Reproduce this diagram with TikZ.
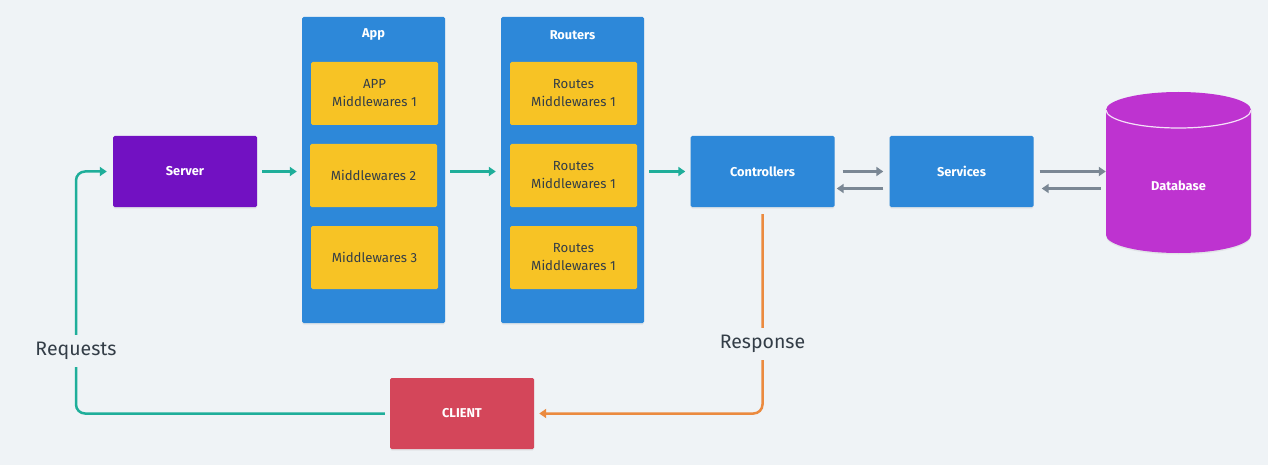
\documentclass[tikz,border=0pt]{standalone}
\usepackage{fontspec}
\setmainfont{Fira Sans}
\usetikzlibrary{arrows.meta, shadows}

\definecolor{bg}{HTML}{EFF3F6}
\definecolor{boxblue}{HTML}{2D88D9}
\definecolor{mwyellow}{HTML}{F7C325}
\definecolor{srvpurple}{HTML}{7211C2}
\definecolor{dbmagenta}{HTML}{BE33D0}
\definecolor{clientred}{HTML}{D4465A}
\definecolor{flowteal}{HTML}{1FAE9A}
\definecolor{flowgray}{HTML}{7A8794}
\definecolor{resporange}{HTML}{EB8A3F}
\definecolor{textdark}{HTML}{333D47}

\begin{document}
\begin{tikzpicture}[x=1pt,y=-1pt,
  shade/.style={drop shadow={opacity=0.12, shadow xshift=0pt, shadow yshift=-1.5pt}},
  box/.style={shade, rounded corners=1.5pt, minimum width=144pt, minimum height=71pt, text=white, font=\fontsize{12.8}{15}\selectfont\bfseries},
  column/.style={shade, fill=boxblue, rounded corners=1.5pt, minimum width=143pt, minimum height=306pt},
  coltitle/.style={text=white, font=\fontsize{12.8}{15}\selectfont\bfseries},
  mw/.style={fill=mwyellow, rounded corners=1.5pt, minimum width=127pt, minimum height=63pt, align=center, text=textdark, font=\fontsize{13.2}{18}\selectfont},
  flow/.style={flowteal, line width=2.5pt, -{Triangle[length=7pt,width=9pt]}, shorten <=5pt, shorten >=5pt},
  back/.style={flowgray, line width=3pt, -{Triangle[length=7pt,width=9pt]}},
  resp/.style={resporange, line width=2.5pt, rounded corners=9pt, -{Triangle[length=7pt,width=9pt]}},
  lbl/.style={fill=bg, text=textdark, inner xsep=2pt, inner ysep=7pt, font=\fontsize{19.5}{21}\selectfont}]

\fill[bg] (0,0) rectangle (1268,465);

% request side
\node[box, fill=srvpurple] (server) at (185,171.5) {Server};

\node[column] (app) at (373.5,170) {};
\node[coltitle] (apptitle) at ([yshift=-18pt]app.north) {App};
\node[mw] (appmw1) at (374.5,93.5) {APP\\Middlewares 1};
\node[mw] (appmw2) at (373.5,175.5) {Middlewares 2};
\node[mw] (appmw3) at (374.5,257.5) {Middlewares 3};

\node[column] (routers) at (572.5,170) {};
\node[coltitle] (routerstitle) at ([yshift=-18pt]routers.north) {Routers};
\node[mw] (routemw1) at (573.5,93.5) {Routes\\Middlewares 1};
\node[mw] (routemw2) at (573.5,175.5) {Routes\\Middlewares 1};
\node[mw] (routemw3) at (573.5,257.5) {Routes\\Middlewares 1};

\node[box, fill=boxblue] (ctrl) at (762.5,171.5) {Controllers};
\node[box, fill=boxblue] (svc) at (961.5,171.5) {Services};

% database cylinder
\fill[dbmagenta, shade] (1106,110) -- (1106,235) arc[start angle=180, end angle=0, x radius=72.5, y radius=18]
  -- (1251,110) arc[start angle=0, end angle=-180, x radius=72.5, y radius=18] -- cycle;
\draw[white!85!dbmagenta, line width=1.2pt] (1106,110) arc[start angle=180, end angle=0, x radius=72.5, y radius=18];
\node[text=white, minimum width=145pt, font=\fontsize{12.8}{15}\selectfont\bfseries] (db) at (1178.5,186) {Database};

\node[box, fill=clientred] (client) at (462,413.5) {CLIENT};

% main flow
\draw[flow] (server.east) -- (server.east -| app.west);
\draw[flow] (server.east -| app.east) -- (server.east -| routers.west);
\draw[flow] (server.east -| routers.east) -- (ctrl.west);

\draw[back, shorten <=8pt, shorten >=6pt] (ctrl.east) -- (svc.west);
\draw[back, shorten <=6pt, shorten >=2pt] ([yshift=-17pt]svc.west) -- ([yshift=-17pt]ctrl.east);
\draw[back, shorten <=6pt] (svc.east) -- (svc.east -| db.west);
\draw[back, shorten <=5pt, shorten >=8pt] ([yshift=-17pt]svc.east -| db.west) -- ([yshift=-17pt]svc.east);

% loop back to the client
\coordinate (reqturn) at (76,171.5);
\draw[flow, rounded corners=9pt, shorten >=6pt] (client.west) -| (reqturn) -- (server.west);
\node[lbl] (reqlabel) at (76,351) {Requests};

\draw[resp, shorten <=7pt, shorten >=5pt] (ctrl.south) |- (client.east);
\node[lbl] (resplabel) at (762.5,344) {Response};

\end{tikzpicture}
\end{document}
